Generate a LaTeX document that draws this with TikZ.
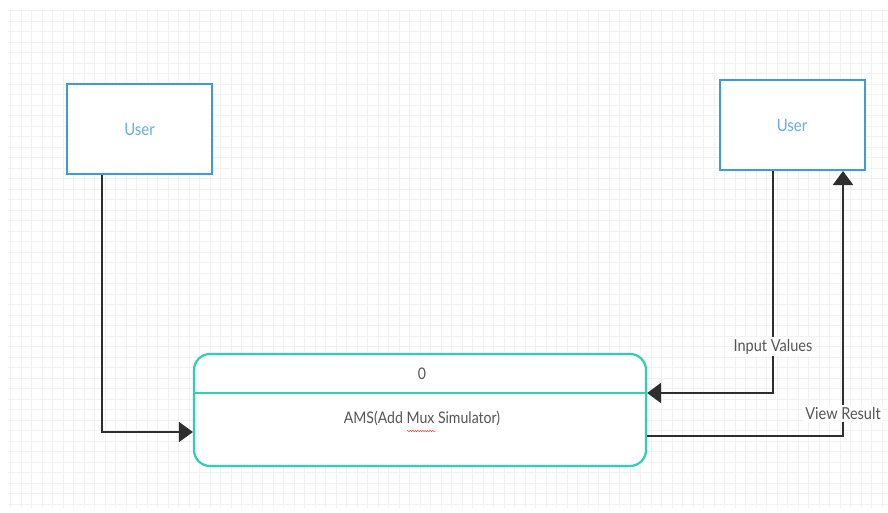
\documentclass[tikz,border=0pt]{standalone}
\usepackage{fontspec}
\setmainfont{Lato}[FakeStretch=0.88]
\usetikzlibrary{arrows.meta,decorations.pathmorphing}
\definecolor{userblue}{HTML}{3C9BDC}
\definecolor{usertext}{HTML}{6AAEE0}
\definecolor{proccyan}{HTML}{2DD0B0}
\definecolor{linegray}{HTML}{2E2E2E}
\definecolor{textgray}{HTML}{555555}
\definecolor{gridgray}{HTML}{F2F2F2}

\begin{document}
\begin{tikzpicture}[
x=1pt, y=-1pt,
user/.style={draw=userblue, line width=2pt, fill=white,
             minimum width=145pt, minimum height=90pt,
             text=usertext, font=\fontsize{17}{19}\selectfont},
proc/.style={draw=proccyan, line width=2.2pt, fill=white,
             rounded corners=16pt,
             minimum width=452pt, minimum height=112pt},
flow/.style={draw=linegray, line width=2.2pt,
             -{Triangle[length=14pt,width=20pt]}},
lbl/.style={fill=white, text=textgray, inner sep=2pt,
            font=\fontsize{16.5}{18}\selectfont}
]
\useasboundingbox (0,0) rectangle (888,512);

% grid
\draw[gridgray, line width=0.8pt, step=10.5pt] (8,10) grid (888,508);

% entities
\node[user] (userleft) at (139.5,129) {User};
\node[user] (userright) at (792,125) {User};

% process
\node[proc] (proc) at (420,410) {};
\draw[proccyan, line width=2.2pt] ([yshift=-40pt]proc.north west) -- ([yshift=-40pt]proc.north east);
\node[text=textgray, font=\fontsize{16}{18}\selectfont] (procid) at (422,374) {0};
\node[text=textgray, font=\fontsize{16}{18}\selectfont] (procname) at (422,418) {AMS(Add Mux Simulator)};
\draw[red!70, line width=0.5pt, decorate, decoration={snake, amplitude=0.8pt, segment length=2.5pt}]
  (407,431) -- (436,431);

% flows
\coordinate (inval) at (773,393);
\coordinate (vres) at (843,436);
\draw[flow] ([xshift=-37.5pt]userleft.south) |- (proc.west |- 0,432);
\draw[flow] ([xshift=-19pt]userright.south) -- node[lbl, pos=0.79] (inlbl) {Input Values} (inval) -- (proc.east |- inval);
\draw[flow] (proc.east |- vres) -- (vres) -- node[lbl, pos=0.085] (vrlbl) {View Result} ([xshift=51pt]userright.south);

\end{tikzpicture}
\end{document}
